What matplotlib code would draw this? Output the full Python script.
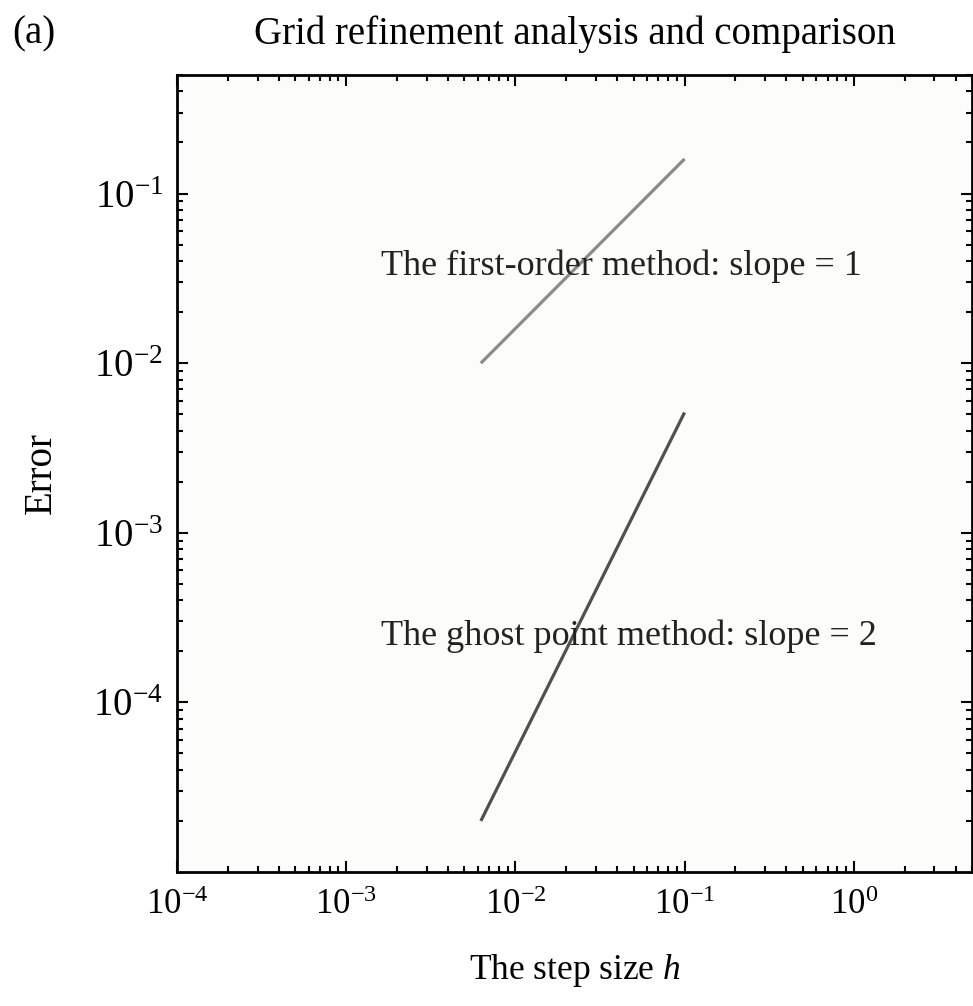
import numpy as np
import matplotlib
matplotlib.use("Agg")
import matplotlib.pyplot as plt
from matplotlib.ticker import LogLocator

# step sizes and the measured errors of the two methods
h = [0.1, 0.05, 0.025, 0.0125, 0.00625]
err_first = [0.16, 0.08, 0.04, 0.02, 0.01]
err_ghost = [5.12e-3, 1.28e-3, 3.2e-4, 8e-5, 2e-5]

plt.rcParams['font.family'] = ['Liberation Serif', 'DejaVu Serif']
plt.rcParams['mathtext.fontset'] = 'custom'
plt.rcParams['mathtext.rm'] = 'Liberation Serif'
plt.rcParams['mathtext.it'] = 'Liberation Serif:italic'

fig = plt.figure(figsize=(9.73, 10.06), dpi=100)
ax = fig.add_axes([177/973, 134/1006, 795/973, 797/1006])
ax.set_facecolor('#fcfcfa')

ax.loglog(h, err_first, color='#8a8a8a', lw=2.3, solid_capstyle='butt')
ax.loglog(h, err_ghost, color='#505050', lw=2.3, solid_capstyle='butt')

ax.set_xlim(1e-4, 5)
ax.set_ylim(1e-5, 0.5)

ax.xaxis.set_major_locator(LogLocator(base=10, numticks=10))
ax.xaxis.set_minor_locator(LogLocator(base=10, subs=np.arange(2, 10), numticks=20))
ax.yaxis.set_minor_locator(LogLocator(base=10, subs=np.arange(2, 10), numticks=20))
# no label at the 1e-5 corner
ax.set_yticks([1e-4, 1e-3, 1e-2, 1e-1])

ax.tick_params(which='both', direction='in', top=True, right=True, width=1.5)
ax.tick_params(which='major', length=8, pad=12)
ax.tick_params(which='minor', length=4)
ax.tick_params(axis='x', which='major', labelsize=25)
ax.tick_params(axis='y', which='major', labelsize=28, pad=10)
for s in ax.spines.values():
    s.set_linewidth(2)

ax.text(1.6e-3, 0.0375, 'The first-order method: slope = 1', fontsize=26,
        va='center', ha='left', color='#222222')
ax.text(1.6e-3, 2.45e-4, 'The ghost point method: slope = 2', fontsize=26,
        va='center', ha='left', color='#222222')

ax.set_xlabel('The step size $h$', fontsize=25.5, labelpad=22)
ax.set_ylabel('Error', fontsize=28, labelpad=24)
ax.set_title('Grid refinement analysis and comparison', fontsize=28, pad=22)
fig.text(12/973, 1 - 34/1006, '(a)', fontsize=28, va='center', ha='left')

fig.savefig('out.png', dpi=100, facecolor='white')
